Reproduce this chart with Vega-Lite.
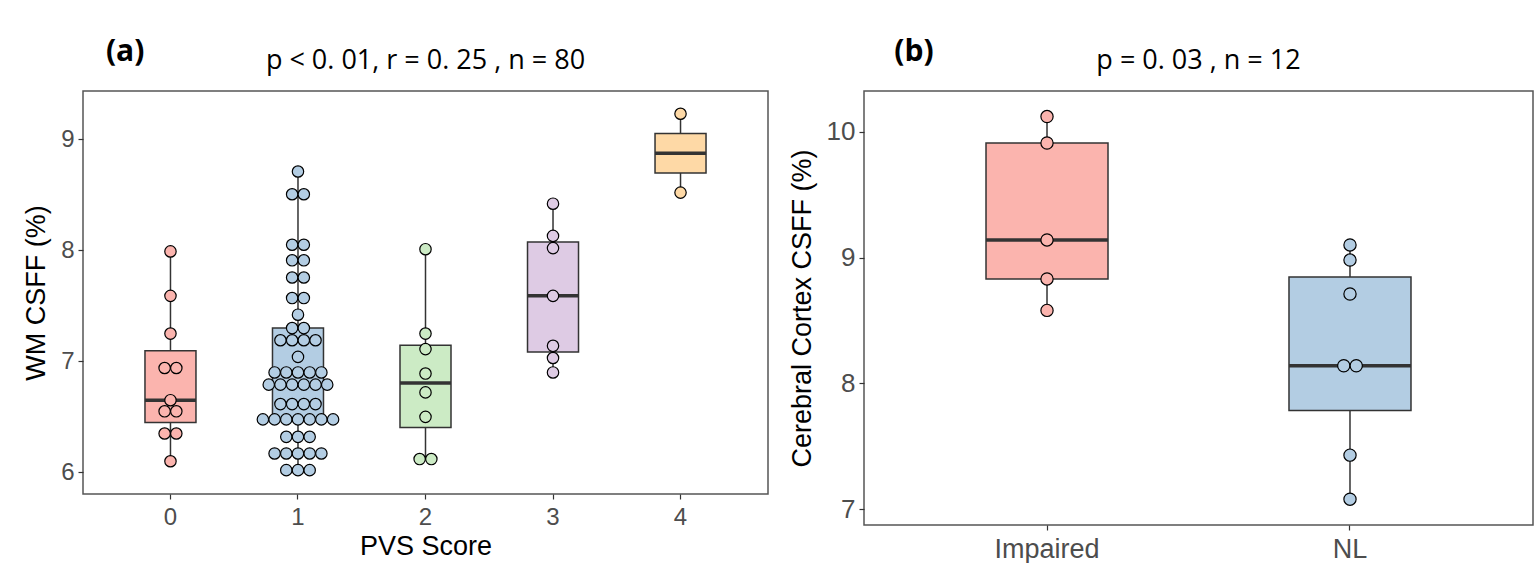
{
  "$schema": "https://vega.github.io/schema/vega-lite/v6.json",
  "background": "white",
  "padding": {"left": 21, "top": 37, "right": 8, "bottom": 0},
  "config": {
    "view": {"stroke": "#555555", "strokeWidth": 1.5},
    "font": "Liberation Sans",
    "axis": {"grid": false, "domain": false, "tickColor": "#333333", "tickSize": 5, "tickWidth": 1.2, "labelColor": "#4D4D4D", "labelFont": "Liberation Sans", "titleFont": "Liberation Sans", "titleColor": "#000000", "titleFontWeight": "normal"},
    "legend": {"disable": true}
  },
  "datasets": {
    "pvs": [
      {"score": 0, "wm": 6.10}, {"score": 0, "wm": 6.35}, {"score": 0, "wm": 6.35}, {"score": 0, "wm": 6.55}, {"score": 0, "wm": 6.55}, {"score": 0, "wm": 6.65}, {"score": 0, "wm": 6.94}, {"score": 0, "wm": 6.94}, {"score": 0, "wm": 7.25}, {"score": 0, "wm": 7.59}, {"score": 0, "wm": 7.99},
      {"score": 1, "wm": 6.02}, {"score": 1, "wm": 6.02}, {"score": 1, "wm": 6.02},
      {"score": 1, "wm": 6.17}, {"score": 1, "wm": 6.17}, {"score": 1, "wm": 6.17}, {"score": 1, "wm": 6.17}, {"score": 1, "wm": 6.17},
      {"score": 1, "wm": 6.32}, {"score": 1, "wm": 6.32}, {"score": 1, "wm": 6.32},
      {"score": 1, "wm": 6.477}, {"score": 1, "wm": 6.477}, {"score": 1, "wm": 6.477}, {"score": 1, "wm": 6.477}, {"score": 1, "wm": 6.477}, {"score": 1, "wm": 6.477}, {"score": 1, "wm": 6.477},
      {"score": 1, "wm": 6.615}, {"score": 1, "wm": 6.615}, {"score": 1, "wm": 6.615}, {"score": 1, "wm": 6.615},
      {"score": 1, "wm": 6.79}, {"score": 1, "wm": 6.79}, {"score": 1, "wm": 6.79}, {"score": 1, "wm": 6.79}, {"score": 1, "wm": 6.79}, {"score": 1, "wm": 6.79},
      {"score": 1, "wm": 6.90}, {"score": 1, "wm": 6.90}, {"score": 1, "wm": 6.90}, {"score": 1, "wm": 6.90}, {"score": 1, "wm": 6.90},
      {"score": 1, "wm": 7.04},
      {"score": 1, "wm": 7.19}, {"score": 1, "wm": 7.19}, {"score": 1, "wm": 7.19}, {"score": 1, "wm": 7.19},
      {"score": 1, "wm": 7.30}, {"score": 1, "wm": 7.30},
      {"score": 1, "wm": 7.42},
      {"score": 1, "wm": 7.57}, {"score": 1, "wm": 7.57},
      {"score": 1, "wm": 7.755}, {"score": 1, "wm": 7.755},
      {"score": 1, "wm": 7.91}, {"score": 1, "wm": 7.91},
      {"score": 1, "wm": 8.05}, {"score": 1, "wm": 8.05},
      {"score": 1, "wm": 8.505}, {"score": 1, "wm": 8.505},
      {"score": 1, "wm": 8.71},
      {"score": 2, "wm": 6.12}, {"score": 2, "wm": 6.12}, {"score": 2, "wm": 6.50}, {"score": 2, "wm": 6.72}, {"score": 2, "wm": 6.89}, {"score": 2, "wm": 7.11}, {"score": 2, "wm": 7.25}, {"score": 2, "wm": 8.01},
      {"score": 3, "wm": 6.90}, {"score": 3, "wm": 7.03}, {"score": 3, "wm": 7.14}, {"score": 3, "wm": 7.59}, {"score": 3, "wm": 8.02}, {"score": 3, "wm": 8.13}, {"score": 3, "wm": 8.42},
      {"score": 4, "wm": 8.52}, {"score": 4, "wm": 9.23}
    ],
    "cortex": [
      {"group": "Impaired", "csff": 8.58}, {"group": "Impaired", "csff": 8.83}, {"group": "Impaired", "csff": 9.14}, {"group": "Impaired", "csff": 9.91}, {"group": "Impaired", "csff": 10.12},
      {"group": "NL", "csff": 7.08}, {"group": "NL", "csff": 7.43}, {"group": "NL", "csff": 8.14}, {"group": "NL", "csff": 8.14}, {"group": "NL", "csff": 8.71}, {"group": "NL", "csff": 8.98}, {"group": "NL", "csff": 9.10}
    ]
  },
  "spacing": 18,
  "resolve": {"scale": {"color": "independent", "xOffset": "independent"}},
  "hconcat": [
    {
      "title": {"text": "(a)", "font": "Open Sans", "fontSize": 30, "fontWeight": "bold", "color": "#000000", "anchor": "start", "frame": "bounds", "dx": 84, "offset": -21},
      "vconcat": [
        {
          "width": 685,
          "height": 403,
          "data": {"name": "pvs"},
          "title": {"text": "p < 0. 01, r = 0. 25 , n = 80", "font": "Open Sans", "fontSize": 27, "fontWeight": "normal", "color": "#000000", "anchor": "middle", "frame": "group", "offset": 16},
          "encoding": {
            "x": {"field": "score", "type": "nominal", "scale": {"type": "band", "paddingInner": 0, "paddingOuter": 0.186}, "axis": {"title": "PVS Score", "labelAngle": 0, "labelFontSize": 24, "titleFontSize": 27, "labelPadding": 6, "titlePadding": 4}},
            "y": {"field": "wm", "type": "quantitative", "scale": {"domain": [5.805, 9.435], "nice": false, "zero": false}, "axis": {"title": "WM CSFF (%)", "values": [6, 7, 8, 9], "labelFontSize": 24, "titleFontSize": 27, "labelPadding": 4, "titlePadding": 10}},
            "color": {"field": "score", "type": "nominal", "scale": {"domain": [0, 1, 2, 3, 4], "range": ["#FBB4AE", "#B3CDE3", "#CCEBC5", "#DECBE4", "#FED9A6"]}, "legend": null}
          },
          "layer": [
            {
              "mark": {"type": "boxplot", "extent": "min-max", "size": 51, "opacity": 1, "box": {"stroke": "#333333", "strokeWidth": 1.5}, "median": {"color": "#333333", "thickness": 3.5}, "rule": {"color": "#333333", "strokeWidth": 1.5}}
            },
            {
              "transform": [
                {"window": [{"op": "row_number", "as": "rn"}, {"op": "count", "as": "cnt"}], "groupby": ["score", "wm"], "frame": [null, null]},
                {"calculate": "datum.rn - (datum.cnt + 1) / 2", "as": "slot"}
              ],
              "mark": {"type": "circle", "size": 130, "opacity": 1, "stroke": "#000000", "strokeWidth": 1.2},
              "encoding": {
                "xOffset": {"field": "slot", "type": "quantitative", "scale": {"domain": [-4, 4], "range": [16.95, 110.55]}}
              }
            }
          ]
        }
      ]
    },
    {
      "title": {"text": "(b)", "font": "Open Sans", "fontSize": 30, "fontWeight": "bold", "color": "#000000", "anchor": "start", "frame": "bounds", "dx": 107, "offset": -21},
      "vconcat": [
        {
          "width": 669,
          "height": 434,
          "data": {"name": "cortex"},
          "title": {"text": "p = 0. 03 , n = 12", "font": "Open Sans", "fontSize": 27, "fontWeight": "normal", "color": "#000000", "anchor": "middle", "frame": "group", "offset": 16},
          "encoding": {
            "x": {"field": "group", "type": "nominal", "sort": ["Impaired", "NL"], "scale": {"type": "band", "paddingInner": 0, "paddingOuter": 0.104}, "axis": {"title": null, "labelAngle": 0, "labelFontSize": 27, "labelPadding": 6}},
            "y": {"field": "csff", "type": "quantitative", "scale": {"domain": [6.875, 10.323], "nice": false, "zero": false}, "axis": {"title": "Cerebral Cortex CSFF (%)", "values": [7, 8, 9, 10], "labelFontSize": 26, "titleFontSize": 27, "labelPadding": 4, "titlePadding": 10}},
            "color": {"field": "group", "type": "nominal", "scale": {"domain": ["Impaired", "NL"], "range": ["#FBB4AE", "#B3CDE3"]}, "legend": null}
          },
          "layer": [
            {
              "mark": {"type": "boxplot", "extent": "min-max", "size": 122, "opacity": 1, "box": {"stroke": "#333333", "strokeWidth": 1.5}, "median": {"color": "#333333", "thickness": 3.5}, "rule": {"color": "#333333", "strokeWidth": 1.5}}
            },
            {
              "transform": [
                {"window": [{"op": "row_number", "as": "rn"}, {"op": "count", "as": "cnt"}], "groupby": ["group", "csff"], "frame": [null, null]},
                {"calculate": "datum.rn - (datum.cnt + 1) / 2", "as": "pos"}
              ],
              "mark": {"type": "circle", "size": 150, "opacity": 1, "stroke": "#000000", "strokeWidth": 1.2},
              "encoding": {
                "xOffset": {"field": "pos", "type": "quantitative", "scale": {"domain": [-4, 4], "range": [101.5, 201.5]}}
              }
            }
          ]
        }
      ]
    }
  ]
}
